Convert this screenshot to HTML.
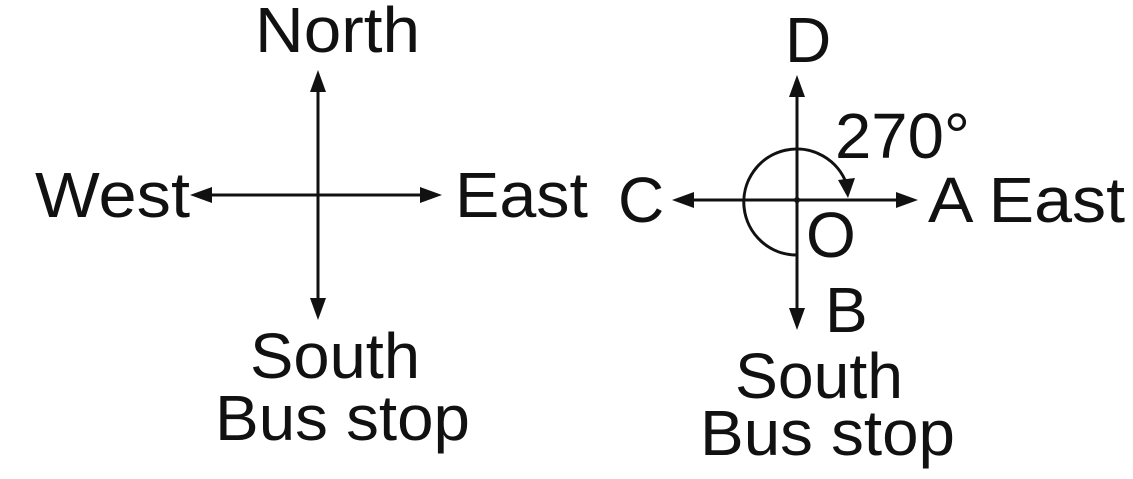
<!DOCTYPE html>
<html><head><style>body{margin:0;background:#fff}svg{display:block}</style></head>
<body>
<svg width="1133" height="479" viewBox="0 0 1133 479" xmlns="http://www.w3.org/2000/svg">
<g stroke="#111" stroke-width="3" fill="none">
<line x1="318" y1="80" x2="318" y2="310"/>
<line x1="200" y1="195" x2="432" y2="195"/>
<line x1="797" y1="85" x2="797" y2="320"/>
<line x1="682" y1="200" x2="908" y2="200"/>
<path d="M797 255 A53 53 0 1 1 847 185"/>
</g>
<g fill="#111">
<polygon points="318,70 310,92 326,92"/>
<polygon points="318,320 310,298 326,298"/>
<polygon points="190,195 212,187 212,203"/>
<polygon points="442,195 420,187 420,203"/>
<polygon points="797,75 789,97 805,97"/>
<polygon points="797,330 789,308 805,308"/>
<polygon points="672,200 694,192 694,208"/>
<polygon points="918,200 896,192 896,208"/>
<polygon points="848,198 838,180 855,178"/>
<circle cx="797" cy="200" r="3"/>
</g>
<g font-family="Liberation Sans, sans-serif" font-size="64" fill="#111">
<text x="255" y="52" textLength="165" lengthAdjust="spacingAndGlyphs">North</text>
<text x="35" y="217" textLength="155" lengthAdjust="spacingAndGlyphs">West</text>
<text x="455" y="217" textLength="133" lengthAdjust="spacingAndGlyphs">East</text>
<text x="250" y="378" textLength="170" lengthAdjust="spacingAndGlyphs">South</text>
<text x="215" y="440" textLength="255" lengthAdjust="spacingAndGlyphs">Bus stop</text>
<text x="785" y="62">D</text>
<text x="835" y="158" textLength="135" lengthAdjust="spacingAndGlyphs">270°</text>
<text x="618" y="222">C</text>
<text x="928" y="222" textLength="197" lengthAdjust="spacingAndGlyphs">A East</text>
<text x="806" y="257">O</text>
<text x="825" y="332">B</text>
<text x="735" y="398" textLength="168" lengthAdjust="spacingAndGlyphs">South</text>
<text x="700" y="455" textLength="255" lengthAdjust="spacingAndGlyphs">Bus stop</text>
</g>
</svg>
</body></html>
